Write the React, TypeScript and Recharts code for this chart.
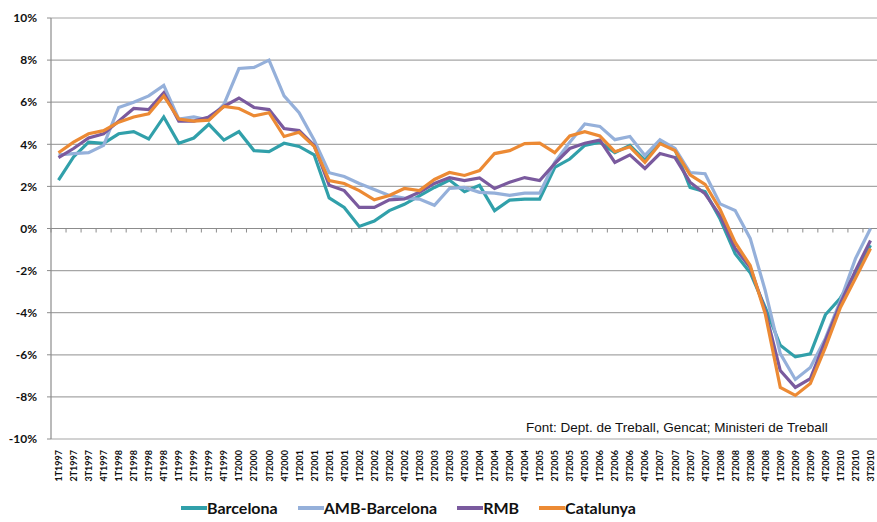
import React from 'react';
import { LineChart, Line, XAxis, YAxis, CartesianGrid, ReferenceLine, Legend } from 'recharts';

const quarters = [
  '1T1997', '2T1997', '3T1997', '4T1997',
  '1T1998', '2T1998', '3T1998', '4T1998',
  '1T1999', '2T1999', '3T1999', '4T1999',
  '1T2000', '2T2000', '3T2000', '4T2000',
  '1T2001', '2T2001', '3T2001', '4T2001',
  '1T2002', '2T2002', '3T2002', '4T2002',
  '1T2003', '2T2003', '3T2003', '4T2003',
  '1T2004', '2T2004', '3T2004', '4T2004',
  '1T2005', '2T2005', '3T2005', '4T2005',
  '1T2006', '2T2006', '3T2006', '4T2006',
  '1T2007', '2T2007', '3T2007', '4T2007',
  '1T2008', '2T2008', '3T2008', '4T2008',
  '1T2009', '2T2009', '3T2009', '4T2009',
  '1T2010', '2T2010', '3T2010',
];

const barcelona = [
  2.3, 3.4, 4.1, 4.05, 4.5, 4.6, 4.25, 5.3, 4.05, 4.3,
  4.95, 4.2, 4.6, 3.7, 3.65, 4.05, 3.9, 3.5, 1.45, 1.0,
  0.1, 0.35, 0.85, 1.15, 1.55, 1.95, 2.3, 1.75, 2.05, 0.85,
  1.35, 1.4, 1.4, 2.9, 3.3, 3.95, 4.1, 3.6, 3.95, 3.25,
  4.1, 3.75, 1.95, 1.75, 0.45, -1.2, -2.1, -3.75, -5.55, -6.1,
  -5.95, -4.1, -3.3, -2.15, -0.8,
];

const ambBarcelona = [
  3.5, 3.56, 3.6, 3.95, 5.75, 6.0, 6.3, 6.8, 5.2, 5.3,
  5.15, 5.9, 7.6, 7.65, 8.0, 6.3, 5.5, 4.2, 2.65, 2.47,
  2.14, 1.85, 1.57, 1.44, 1.4, 1.1, 1.9, 1.95, 1.72, 1.68,
  1.57, 1.68, 1.68, 3.14, 4.1, 4.97, 4.85, 4.22, 4.37, 3.47,
  4.22, 3.8, 2.66, 2.6, 1.17, 0.85, -0.47, -2.95, -5.94, -7.17,
  -6.6, -5.22, -3.42, -1.43, 0.0,
];

const rmb = [
  3.37, 3.8, 4.3, 4.5, 5.1, 5.7, 5.65, 6.45, 5.1, 5.1,
  5.3, 5.8, 6.2, 5.75, 5.65, 4.75, 4.65, 3.95, 2.05, 1.8,
  1.0, 1.0, 1.36, 1.4, 1.72, 2.14, 2.42, 2.28, 2.4, 1.9,
  2.2, 2.42, 2.28, 3.08, 3.8, 4.05, 4.2, 3.14, 3.5, 2.85,
  3.56, 3.37, 2.2, 1.65, 0.6, -0.95, -1.85, -3.9, -6.75, -7.55,
  -7.13, -5.32, -3.56, -2.0, -0.57,
];

const catalunya = [
  3.6, 4.1, 4.5, 4.65, 5.05, 5.3, 5.45, 6.3, 5.2, 5.1,
  5.15, 5.8, 5.7, 5.35, 5.5, 4.37, 4.57, 3.9, 2.28, 2.14,
  1.8, 1.36, 1.57, 1.9, 1.8, 2.33, 2.66, 2.52, 2.75, 3.56,
  3.7, 4.03, 4.06, 3.6, 4.4, 4.6, 4.4, 3.65, 3.88, 3.14,
  4.03, 3.7, 2.55, 2.1, 0.9, -0.66, -1.76, -4.05, -7.55, -7.93,
  -7.36, -5.65, -3.75, -2.37, -0.95,
];

const yTicks = [-10, -8, -6, -4, -2, 0, 2, 4, 6, 8, 10];

const seriesNames = ['Barcelona', 'AMB-Barcelona', 'RMB', 'Catalunya'];
const seriesColors = ['#31a0aa', '#95b0da', '#7a5a9e', '#ec8a34'];
const sourceText = 'Font: Dept. de Treball, Gencat; Ministeri de Treball';

const data = quarters.map((q, i) => ({
  q,
  Barcelona: barcelona[i],
  'AMB-Barcelona': ambBarcelona[i],
  RMB: rmb[i],
  Catalunya: catalunya[i],
}));

const FONT = 'Lato, "Open Sans", sans-serif';

const XTick = (props: any) => {
  const { x, y, payload } = props;
  return (
    <text
      x={x}
      y={y}
      transform={`rotate(-90, ${x}, ${y})`}
      textAnchor="end"
      dominantBaseline="central"
      fontSize={9}
      fontWeight={700}
      fontFamily={FONT}
      fill="#111"
    >
      {payload.value}
    </text>
  );
};

const ZeroAxis = (props: any) => {
  const { x1, y1, x2, y2 } = props;
  const n = quarters.length;
  const step = (x2 - x1) / n;
  const ticks = [];
  for (let k = 0; k <= n; k++) {
    const tx = x1 + k * step;
    ticks.push(<line key={k} x1={tx} y1={y1} x2={tx} y2={y1 + 4} stroke="#8c8c8c" strokeWidth={1} />);
  }
  return (
    <g>
      <line x1={x1} y1={y1} x2={x2} y2={y2} stroke="#8c8c8c" strokeWidth={1.2} />
      {ticks}
    </g>
  );
};

const LegendContent = () => (
  <div style={{ display: 'flex', alignItems: 'center', fontFamily: FONT, fontSize: 16, fontWeight: 700, color: '#111', whiteSpace: 'nowrap' }}>
    {seriesNames.map((name, i) => (
      <div key={name} style={{ display: 'flex', alignItems: 'center', marginRight: 20 }}>
        <div style={{ width: 26, height: 4, background: seriesColors[i] }} />
        <span>{name}</span>
      </div>
    ))}
  </div>
);

export default function App() {
  return (
    <div style={{ position: 'absolute', left: 0, top: 0, width: 877, height: 522, background: '#fff' }}>
      <LineChart width={877} height={522} data={data} margin={{ top: 18, right: -1, bottom: 0, left: 0 }}>
        <CartesianGrid horizontal vertical={false} stroke="#a6a6a6" strokeWidth={1.2} />
        <XAxis
          dataKey="q"
          interval={0}
          tick={<XTick />}
          axisLine={false}
          tickLine={false}
          tickSize={0}
          tickMargin={11}
          height={59}
          padding={{ left: 7.5, right: 7.5 }}
        />
        <YAxis
          domain={[-10, 10]}
          ticks={yTicks}
          tickFormatter={(v: number) => `${v}%`}
          width={51}
          axisLine={{ stroke: '#8c8c8c', strokeWidth: 1.2 }}
          tickLine={{ stroke: '#8c8c8c' }}
          tickSize={4}
          tickMargin={10}
          tick={{ fontSize: 12, fontWeight: 700, fontFamily: FONT, fill: '#111' }}
          interval={0}
        />
        <ReferenceLine y={0} shape={<ZeroAxis />} />
        {seriesNames.map((name, i) => (
          <Line
            key={name}
            type="linear"
            dataKey={name}
            stroke={seriesColors[i]}
            strokeWidth={3.2}
            dot={false}
            activeDot={false}
            isAnimationActive={false}
          />
        ))}
        <Legend
          verticalAlign="bottom"
          height={24}
          content={<LegendContent />}
          wrapperStyle={{ left: 181, width: 'auto', bottom: 0 }}
        />
      </LineChart>
      <div
        style={{
          position: 'absolute',
          left: 526,
          top: 420,
          fontFamily: '"Liberation Sans", Arial, sans-serif',
          fontSize: 13.5,
          color: '#111',
          whiteSpace: 'nowrap',
        }}
      >
        {sourceText}
      </div>
    </div>
  );
}
